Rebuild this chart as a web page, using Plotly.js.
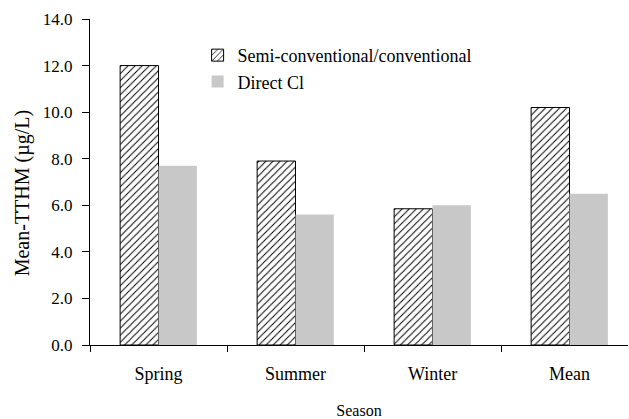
<!DOCTYPE html>
<html><head><meta charset="utf-8">
<script src="https://cdn.plot.ly/plotly-3.0.1.min.js"></script>
<style>body{margin:0;background:#fff}#c{width:629px;height:419px}</style>
</head><body><div id="c"></div>
<script>
var seasons = ["Spring", "Summer", "Winter", "Mean"];
var semiConv = [12.0, 7.9, 5.85, 10.2];
var directCl = [7.7, 5.6, 6.0, 6.5];
var yTicks = [0, 2, 4, 6, 8, 10, 12, 14];
var yTitle = "Mean-TTHM (µg/L)";

var fam = "Liberation Serif, Times New Roman, serif";
var traces = [
  {type: "bar", name: "Semi-conventional/conventional", x: seasons, y: semiConv,
   marker: {color: "#fff", line: {color: "#000", width: 1},
            pattern: {shape: "/", fgcolor: "#000", bgcolor: "#fff", size: 5, solidity: 0.2}}},
  {type: "bar", name: "Direct Cl", x: seasons, y: directCl,
   marker: {color: "#c8c8c8", line: {width: 0}}}
];
var layout = {
  width: 629, height: 419,
  margin: {l: 90, r: 1, t: 19, b: 74},
  paper_bgcolor: "#fff", plot_bgcolor: "#fff",
  font: {family: fam, color: "#000", size: 16},
  barmode: "group", bargap: 0.44, bargroupgap: 0,
  showlegend: true,
  legend: {x: 0.2, y: 0.945, xanchor: "left", yanchor: "top", bgcolor: "rgba(0,0,0,0)",
           font: {family: fam, size: 18}, tracegroupgap: 0, itemwidth: 30},
  xaxis: {type: "category", range: [-0.5, 3.427], showline: true, linecolor: "#000", linewidth: 1,
          ticks: "outside", tickson: "boundaries", ticklen: 6, tickcolor: "#000",
          showgrid: false, zeroline: false, tickfont: {family: fam, size: 18},
          ticklabelstandoff: 12,
          title: {text: "Season", font: {family: fam, size: 16}, standoff: 22}},
  yaxis: {range: [0, 14], tickvals: yTicks, tickformat: ".1f", showline: true, linecolor: "#000",
          linewidth: 1, ticks: "outside", ticklen: 7, tickcolor: "#000", showgrid: false,
          zeroline: false, tickfont: {family: fam, size: 17}, ticklabelstandoff: 6},
  annotations: [{text: yTitle, textangle: -90, xref: "paper", yref: "paper",
                 x: -0.126, y: 0.466, xanchor: "center", yanchor: "middle", showarrow: false,
                 font: {family: fam, size: 20}}]
};
Plotly.newPlot("c", traces, layout, {displayModeBar: false, staticPlot: true});
</script></body></html>
